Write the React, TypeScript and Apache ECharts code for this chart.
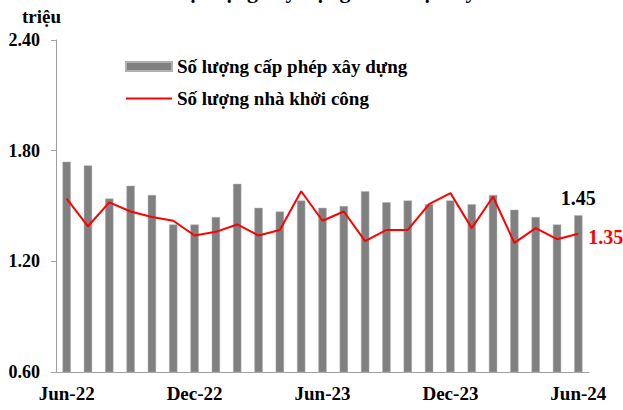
import React, { useEffect, useRef } from "react";
import * as echarts from "echarts";

const categories = [
  "Jun-22", "Jul-22", "Aug-22", "Sep-22", "Oct-22", "Nov-22", "Dec-22",
  "Jan-23", "Feb-23", "Mar-23", "Apr-23", "May-23", "Jun-23", "Jul-23",
  "Aug-23", "Sep-23", "Oct-23", "Nov-23", "Dec-23", "Jan-24", "Feb-24",
  "Mar-24", "Apr-24", "May-24", "Jun-24",
];

const permits = [
  1.74, 1.72, 1.54, 1.61, 1.56, 1.40, 1.40, 1.44, 1.62, 1.49, 1.47, 1.53,
  1.49, 1.50, 1.58, 1.52, 1.53, 1.51, 1.53, 1.51, 1.56, 1.48, 1.44, 1.40,
  1.45,
];

const starts = [
  1.54, 1.39, 1.52, 1.47, 1.44, 1.42, 1.34, 1.36, 1.40, 1.34, 1.37, 1.58,
  1.42, 1.47, 1.31, 1.37, 1.37, 1.51, 1.57, 1.38, 1.55, 1.30, 1.38, 1.32,
  1.35,
];

const yTicks = [0.6, 1.2, 1.8, 2.4];

const permitsName = "Số lượng cấp phép xây dựng";
const startsName = "Số lượng nhà khởi công";
const titleText = "Hoạt động xây dựng nhà ở tại Mỹ";
const unitText = "triệu";

const FONT = "'Liberation Serif', 'Times New Roman', serif";

export default function App() {
  const ref = useRef<HTMLDivElement>(null);

  useEffect(() => {
    document.body.style.margin = "0";
    if (!ref.current) return;
    const chart = echarts.init(ref.current, undefined, { renderer: "svg" });
    const last = categories.length - 1;

    const barData = permits.map((v, i) =>
      i === last
        ? {
            value: v,
            label: {
              show: true,
              position: "top",
              distance: 7,
              formatter: (p: any) => p.value.toFixed(2),
              color: "#000",
              fontFamily: FONT,
              fontWeight: "bold",
              fontSize: 20,
            },
          }
        : v
    );
    const lineData = starts.map((v, i) =>
      i === last
        ? {
            value: v,
            label: {
              show: true,
              position: "right",
              distance: 10,
              offset: [0, 3],
              formatter: (p: any) => p.value.toFixed(2),
              color: "#ff0000",
              fontFamily: FONT,
              fontWeight: "bold",
              fontSize: 20,
            },
          }
        : v
    );

    chart.setOption({
      animation: false,
      backgroundColor: "#fff",
      textStyle: { fontFamily: FONT },
      grid: { left: 56, right: 34, top: 40, bottom: 38, containLabel: false },
      legend: {
        orient: "vertical",
        left: 125,
        top: 57,
        padding: 0,
        itemWidth: 46,
        itemHeight: 9,
        itemGap: 13,
        textStyle: { fontFamily: FONT, fontWeight: "bold", fontSize: 19, color: "#000" },
        data: [
          { name: permitsName, icon: "rect" },
          { name: startsName, icon: "path://M0,0 L46,0 L46,2 L0,2 Z" },
        ],
      },
      graphic: [
        {
          type: "text",
          left: 22,
          top: 7,
          style: { text: unitText, font: `bold 19px ${FONT}`, fill: "#000" },
        },
        {
          type: "text",
          x: 318,
          y: 1,
          style: {
            text: titleText,
            font: `bold 22px ${FONT}`,
            fill: "#000",
            align: "center",
            verticalAlign: "bottom",
          },
        },
      ],
      xAxis: {
        type: "category",
        data: categories,
        boundaryGap: true,
        axisLine: { lineStyle: { color: "#a0a0a0", width: 1 } },
        axisTick: { interval: 5, length: 5, lineStyle: { color: "#a0a0a0" } },
        axisLabel: {
          interval: 5,
          margin: 12,
          color: "#000",
          fontFamily: FONT,
          fontWeight: "bold",
          fontSize: 19,
        },
      },
      yAxis: {
        type: "value",
        min: yTicks[0],
        max: yTicks[yTicks.length - 1],
        interval: 0.6,
        splitLine: { show: false },
        axisLine: { show: true, lineStyle: { color: "#a0a0a0", width: 1 } },
        axisTick: { show: true, length: 5, lineStyle: { color: "#a0a0a0" } },
        axisLabel: {
          margin: 16,
          color: "#000",
          fontFamily: FONT,
          fontWeight: "bold",
          fontSize: 18,
          formatter: (v: number) => v.toFixed(2),
        },
      },
      series: [
        {
          name: permitsName,
          type: "bar",
          data: barData,
          barWidth: "39%",
          itemStyle: { color: "#808080", borderColor: "#b0b0b0", borderWidth: 0.5 },
        },
        {
          name: startsName,
          type: "line",
          data: lineData,
          symbol: "circle",
          symbolSize: 0,
          showSymbol: true,
          lineStyle: { color: "#ff0000", width: 2 },
          itemStyle: { color: "#ff0000" },
        },
      ],
    });

    return () => chart.dispose();
  }, []);

  return <div ref={ref} style={{ width: 623, height: 410 }} />;
}
